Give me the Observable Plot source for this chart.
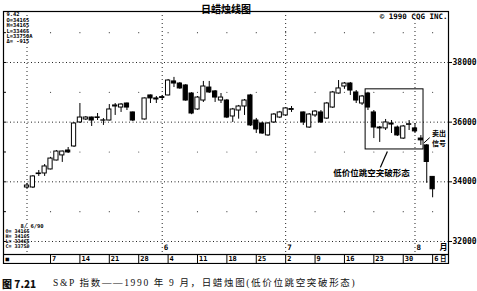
<!DOCTYPE html>
<html><head><meta charset="utf-8">
<script src="https://cdn.jsdelivr.net/npm/d3@7"></script>
<script src="https://cdn.jsdelivr.net/npm/@observablehq/plot@0.6"></script>
<style>
html,body{margin:0;padding:0;background:#fff;}
#wrap{position:relative;width:477px;height:291px;overflow:hidden;background:#fff;}
#main{position:absolute;left:0;top:0;}
#strip{position:absolute;left:0;top:254px;}
.cap{position:absolute;top:277px;white-space:nowrap;color:#111;line-height:13px;}
#cap1{left:2px;font-family:"Noto Sans CJK SC";font-weight:900;font-size:10px;}
#cap2{left:53px;font-family:"Liberation Serif","Noto Sans CJK SC";font-size:9.5px;letter-spacing:1.65px;}
</style></head><body>
<div id="wrap"><div id="main"></div><div id="strip"></div>
<div class="cap" id="cap1">图 7.21</div>
<div class="cap" id="cap2">S&amp;P 指数——1990 年 9 月，日蜡烛图(低价位跳空突破形态)</div>
</div>
<script>
// ---- data (S&P futures, daily, 1990) ----
const dates = [
"1990-05-01","1990-05-02","1990-05-03","1990-05-04",
"1990-05-07","1990-05-08","1990-05-09","1990-05-10","1990-05-11",
"1990-05-14","1990-05-15","1990-05-16","1990-05-17","1990-05-18",
"1990-05-21","1990-05-22","1990-05-23","1990-05-24","1990-05-25",
"1990-05-29","1990-05-30","1990-05-31","1990-06-01",
"1990-06-04","1990-06-05","1990-06-06","1990-06-07","1990-06-08",
"1990-06-11","1990-06-12","1990-06-13","1990-06-14","1990-06-15",
"1990-06-18","1990-06-19","1990-06-20","1990-06-21","1990-06-22",
"1990-06-25","1990-06-26","1990-06-27","1990-06-28","1990-06-29",
"1990-07-02","1990-07-03","1990-07-05","1990-07-06",
"1990-07-09","1990-07-10","1990-07-11","1990-07-12","1990-07-13",
"1990-07-16","1990-07-17","1990-07-18","1990-07-19","1990-07-20",
"1990-07-23","1990-07-24","1990-07-25","1990-07-26","1990-07-27",
"1990-07-30","1990-07-31","1990-08-01","1990-08-02","1990-08-03",
"1990-08-06"];
const open = [
33810,33810,34260,34280,
34415,34715,34885,35050,35185,
35990,36090,36155,36140,36050,
36055,36525,36490,36625,36325,
36090,36895,36795,36810,
36895,37365,37295,37230,36960,
36425,36725,37160,37030,36725,
36725,36190,36390,36525,36895,
36055,35955,35555,35990,36155,
36225,36410,36325,35820,
36225,36325,36120,36490,36960,
37195,37295,36995,36625,36960,
36325,35790,35790,35955,35820,
35450,35910,35790,35450,35220,
34165];
const high = [
33945,34210,34380,34580,
34820,35050,35030,35150,35990,
36625,36190,36170,36290,36120,
36590,36625,36625,36640,36340,
36810,36910,36860,36895,
37430,37500,37330,37260,36990,
36860,37365,37365,37060,36960,
36760,36460,36560,36760,36930,
36125,36000,35990,36290,36360,
36490,36525,36340,36290,
36390,36390,36660,37030,37395,
37330,37330,37060,36895,37000,
36390,35855,36090,36055,35870,
35890,36055,35955,35550,35250,
34165];
const low = [
33745,33775,34180,34180,
34400,34700,34650,34950,35150,
35955,36055,35855,36055,35890,
36040,36225,36325,36390,36020,
36070,36625,36625,36725,
36880,37160,37100,36700,36250,
36400,36660,36960,36660,36625,
36120,35990,36100,36225,35855,
35620,35590,35520,35955,36120,
36190,36325,35890,35790,
36160,35955,36090,36460,36940,
37100,36895,36625,36560,36390,
35450,35320,35720,35620,35520,
35420,35720,35620,35220,33950,
33465];
const close = [
33875,34180,34280,34515,
34780,35015,35015,34985,35955,
36155,36155,36055,36160,36060,
36425,36560,36590,36490,36055,
36795,36795,36760,36840,
37395,37295,37130,36725,36290,
36825,37195,36995,36825,36825,
36155,36425,36525,36725,35890,
35755,35620,35955,36255,36325,
36460,36440,35990,36255,
36355,35990,36625,36995,37130,
37295,37060,36725,36860,36490,
35820,35820,35990,35920,35555,
35855,35930,35690,35390,34665,
33750];
const gridPrices = [32000, 34000, 36000, 38000];
const minorPrices = [33000, 35000, 37000, 39000];
const leftTickPrices = [32000, 33000, 34000, 35000, 36000, 37000, 38000, 39000];
const headerLines = ["9.42", "O=34165", "H=34165", "L=33465", "L=33750A", "Δ= -915"];
const footDate = "8/ 6/90";
const footLines = ["O= 34165", "H= 34165", "L= 33465", "C= 33750"];
const titleText = "日蜡烛线图";
const copyText = "© 1990 CQG INC.";
const monthUnit = "月", dayUnit = "日";
// annotation anchors in data units (weekday index, price)
const boxIdx = [57.6, 67.45], boxPrice = [35085, 37100];
const noteText = "低价位跳空突破形态", noteAt = [58.6, 34280];
const notePointer = [60.1, 34480, 61.3, 35020];
const sellLines = ["卖出", "信号"], sellAt = [70.1, 35610, 35290];
const sellPointer = [68.5, 35480, 67.5, 35300];

// ---- derived ----
const parse = d3.utcParse("%Y-%m-%d");
const t0 = parse(dates[0]);
const isWeekday = t => t.getUTCDay() % 6 !== 0;
const wd = t => d3.utcDay.range(t0, t).filter(isWeekday).length;
const candles = dates.map((s, k) => ({i: wd(parse(s)), o: open[k], h: high[k], l: low[k], c: close[k]}));
const up = candles.filter(d => d.c >= d.o), down = candles.filter(d => d.c < d.o);
const mondays = d3.utcMonday.range(parse("1990-05-07"), parse("1990-08-07")).map(t => ({i: wd(t), label: String(t.getUTCDate())}));
const monthStarts = d3.utcMonth.range(t0, parse("1990-08-07")).map(m => {let t = m; while (!isWeekday(t)) t = d3.utcDay.offset(t, 1); return {i: wd(t), label: String(m.getUTCMonth() + 1)};});
const sparse = mondays.flatMap(m => minorPrices.map(p => ({i: m.i, p})));
const xDomain = [-4, 71.7];
const yDomain = [31564, 39709];
const mono = "DejaVu Sans Mono";
const cjk = "Noto Sans CJK SC";

const main = Plot.plot({
  width: 477, height: 255,
  marginTop: 11, marginBottom: 1, marginLeft: 3, marginRight: 29,
  style: {background: "white", color: "black"},
  x: {domain: xDomain, axis: null},
  y: {domain: yDomain, axis: "right", ticks: gridPrices, tickSize: 3, tickPadding: 1, tickFormat: d => String(d), label: null},
  marks: [
    Plot.ruleY(gridPrices, {stroke: "#222", strokeDasharray: "1,2.5"}),
    Plot.ruleX(monthStarts, {x: "i", stroke: "#222", strokeDasharray: "1,3"}),
    Plot.dot(sparse, {x: "i", y: "p", r: 0.6, fill: "#444", stroke: null}),
    Plot.ruleY(leftTickPrices, {y: d => d, x1: () => xDomain[0], x2: () => xDomain[0] + 0.5, stroke: "black"}),
    Plot.rect([0], {x1: () => boxIdx[0], x2: () => boxIdx[1], y1: () => boxPrice[0], y2: () => boxPrice[1], fill: "none", stroke: "black", strokeWidth: 1}),
    Plot.ruleX(candles, {x: "i", y1: "l", y2: "h", stroke: "black", strokeWidth: 1}),
    Plot.rect(up, {x1: d => d.i - 0.36, x2: d => d.i + 0.36, y1: "o", y2: "c", fill: "white", stroke: "black", strokeWidth: 1}),
    Plot.rect(down, {x1: d => d.i - 0.36, x2: d => d.i + 0.36, y1: "o", y2: "c", fill: "black", stroke: "black", strokeWidth: 1}),
    Plot.text(monthStarts.filter(d => d.label !== "5"), {x: "i", text: "label", frameAnchor: "bottom", dy: -5, dx: 1.5, textAnchor: "start", fontFamily: mono, fontWeight: "bold", fontSize: 7.5}),
    Plot.text([monthUnit], {frameAnchor: "bottom-right", dy: -5, dx: -1, textAnchor: "end", fontFamily: cjk, fontWeight: "bold", fontSize: 8}),
    Plot.link([0], {x1: () => notePointer[0], y1: () => notePointer[1], x2: () => notePointer[2], y2: () => notePointer[3], stroke: "black", strokeWidth: 1.2}),
    Plot.text([noteText], {x: () => noteAt[0], y: () => noteAt[1], fontFamily: cjk, fontWeight: "bold", fontSize: 8.5, fill: "black", stroke: "white", strokeWidth: 2, paintOrder: "stroke"}),
    Plot.link([0], {x1: () => sellPointer[0], y1: () => sellPointer[1], x2: () => sellPointer[2], y2: () => sellPointer[3], stroke: "black", strokeWidth: 1}),
    Plot.text(sellLines, {x: () => sellAt[0], y: (d, k) => sellAt[1 + k], fontFamily: cjk, fontWeight: "bold", fontSize: 7, fill: "black"}),
    Plot.frame({stroke: "black", strokeWidth: 1.2}),
    Plot.text([titleText], {frameAnchor: "top", dy: -6, fontFamily: cjk, fontWeight: "bold", fontSize: 10, fill: "black"}),
    Plot.text([copyText], {frameAnchor: "top-right", dx: -1, dy: 2, lineAnchor: "top", textAnchor: "end", fontFamily: mono, fontWeight: "bold", fontSize: 7.5, fill: "black"}),
    Plot.text([headerLines.join("\n")], {frameAnchor: "top-left", dx: 3, dy: 1, lineAnchor: "top", textAnchor: "start", lineHeight: 1.0, fontFamily: mono, fontWeight: "bold", fontSize: 5.4, fill: "black"}),
    Plot.text([footDate], {frameAnchor: "bottom-left", dx: 17, dy: -27, lineAnchor: "bottom", textAnchor: "start", fontFamily: mono, fontWeight: "bold", fontSize: 5.5, fill: "black"}),
    Plot.text([footLines.join("\n")], {frameAnchor: "bottom-left", dx: 2, dy: -7, lineAnchor: "bottom", textAnchor: "start", lineHeight: 0.95, fontFamily: mono, fontWeight: "bold", fontSize: 5, fill: "black"})
  ]
});
main.style.fontFamily = mono; main.style.fontSize = "8px"; main.style.fontWeight = "bold";
document.getElementById("main").appendChild(main);

const strip = Plot.plot({
  width: 477, height: 10,
  marginTop: 0, marginBottom: 1, marginLeft: 3, marginRight: 29,
  style: {background: "white", color: "black"},
  x: {domain: xDomain, axis: null},
  marks: [
    Plot.ruleX(mondays, {x: "i", stroke: "black"}),
    Plot.text(mondays, {x: "i", text: "label", dx: 1.5, textAnchor: "start", frameAnchor: "middle", fontFamily: mono, fontWeight: "bold", fontSize: 7, fill: "black"}),
    Plot.text(["■"], {frameAnchor: "left", dx: 2, textAnchor: "start", fontFamily: mono, fontSize: 6, fill: "black"}),
    Plot.text([dayUnit], {frameAnchor: "right", dx: -2, textAnchor: "end", fontFamily: cjk, fontWeight: "bold", fontSize: 6.5, fill: "black"}),
    Plot.frame({stroke: "black", strokeWidth: 1.2})
  ]
});
document.getElementById("strip").appendChild(strip);
</script>
</body></html>
